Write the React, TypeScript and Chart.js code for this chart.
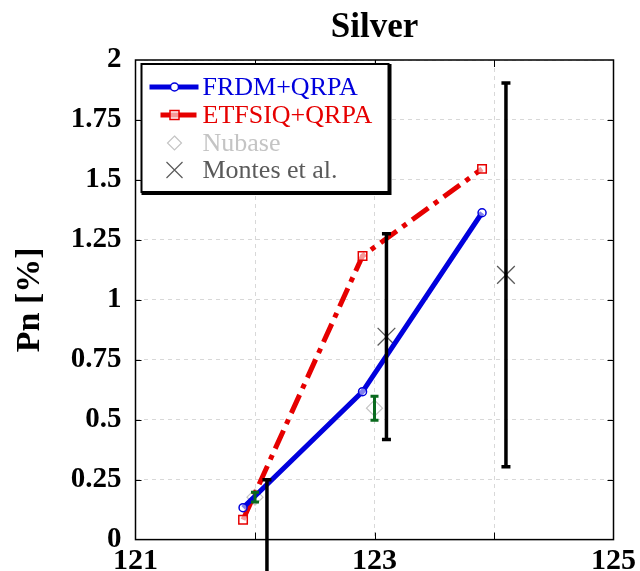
import React, { useEffect, useRef } from 'react';
import { Chart, registerables } from 'chart.js';
Chart.register(...registerables);

const titleText = 'Silver';
const yTitle = 'Pn [%]';
const xTickLabels = ['121', '123', '125'];

const frdmX = [121.9, 122.9, 123.9];
const frdmY = [0.133, 0.617, 1.363];
const etfsiqX = [121.9, 122.9, 123.9];
const etfsiqY = [0.083, 1.183, 1.546];
const nubaseX = [122.0, 123.0];
const nubaseY = [0.177, 0.548];
const nubaseErr = [0.02, 0.05];
const montesX = [122.1, 123.1, 124.1];
const montesY = [-0.05, 0.846, 1.104];
const montesErr = [0.3, 0.429, 0.8];

const legendLabels = ['FRDM+QRPA', 'ETFSIQ+QRPA', 'Nubase', 'Montes et al.'];

const BLUE = '#0000dd';
const RED = '#e60000';
const NUB = '#c4c4c4';
const MON = '#5a5a5a';
const GREEN = '#0a6a1e';
const SERIF = '"Liberation Serif", "Times New Roman", serif';

const toPts = (xs: number[], ys: number[]) => xs.map((x, i) => ({ x, y: ys[i] }));

const decorPlugin = {
  id: 'decor',
  afterDatasetsDraw(chart: any) {
    const { ctx, chartArea: a, scales } = chart;
    const xs = scales.x, ys = scales.y;
    ctx.save();
    // frame
    ctx.strokeStyle = '#000';
    ctx.lineWidth = 1.5;
    ctx.strokeRect(a.left, a.top, a.right - a.left, a.bottom - a.top);
    // inner ticks
    ctx.lineWidth = 1;
    for (let v = 122; v <= 124; v++) {
      const px = Math.round(xs.getPixelForValue(v)) + 0.5;
      ctx.beginPath();
      ctx.moveTo(px, a.bottom); ctx.lineTo(px, a.bottom - 7);
      ctx.moveTo(px, a.top); ctx.lineTo(px, a.top + 7);
      ctx.stroke();
    }
    for (let v = 0.25; v < 2; v += 0.25) {
      const py = Math.round(ys.getPixelForValue(v)) + 0.5;
      ctx.beginPath();
      ctx.moveTo(a.left, py); ctx.lineTo(a.left + 6, py);
      ctx.moveTo(a.right, py); ctx.lineTo(a.right - 6, py);
      ctx.stroke();
    }
    // error bars
    const bar = (x: number, y: number, e: number, color: string, w: number, cap: number) => {
      const px = xs.getPixelForValue(x);
      const p1 = ys.getPixelForValue(y - e);
      const p2 = ys.getPixelForValue(y + e);
      ctx.strokeStyle = color;
      ctx.lineWidth = w;
      ctx.beginPath();
      ctx.moveTo(px, p1); ctx.lineTo(px, p2);
      ctx.moveTo(px - cap, p1); ctx.lineTo(px + cap, p1);
      ctx.moveTo(px - cap, p2); ctx.lineTo(px + cap, p2);
      ctx.stroke();
    };
    nubaseX.forEach((x, i) => bar(x, nubaseY[i], nubaseErr[i], GREEN, 3, 4));
    montesX.forEach((x, i) => bar(x, montesY[i], montesErr[i], '#000', 3.5, 4.5));
    // legend
    const lx = a.left + 6, ly = a.top + 4, lw = 247, lh = 128;
    ctx.fillStyle = '#000';
    ctx.fillRect(lx, ly, lw + 3, lh + 3);
    ctx.fillStyle = '#fff';
    ctx.fillRect(lx, ly, lw, lh);
    ctx.strokeStyle = '#000';
    ctx.lineWidth = 2;
    ctx.strokeRect(lx, ly, lw, lh);
    const rows = [ly + 23, ly + 51, ly + 79, ly + 106];
    const mx = lx + 33;
    // FRDM
    ctx.strokeStyle = BLUE; ctx.lineWidth = 5;
    ctx.beginPath(); ctx.moveTo(lx + 8, rows[0]); ctx.lineTo(lx + 57, rows[0]); ctx.stroke();
    ctx.lineWidth = 1.5;
    ctx.beginPath(); ctx.arc(mx, rows[0], 4, 0, Math.PI * 2); ctx.fillStyle = '#fff'; ctx.fill(); ctx.stroke();
    // ETFSIQ
    ctx.strokeStyle = RED; ctx.lineWidth = 5;
    ctx.beginPath(); ctx.moveTo(lx + 19, rows[1]); ctx.lineTo(lx + 55, rows[1]); ctx.stroke();
    ctx.lineWidth = 1.5; ctx.fillStyle = 'rgba(255,255,255,0.6)';
    ctx.fillRect(mx - 4.5, rows[1] - 4.5, 9, 9); ctx.strokeRect(mx - 4.5, rows[1] - 4.5, 9, 9);
    // Nubase diamond
    ctx.strokeStyle = NUB; ctx.lineWidth = 1.2;
    ctx.beginPath();
    ctx.moveTo(mx, rows[2] - 7); ctx.lineTo(mx + 7, rows[2]); ctx.lineTo(mx, rows[2] + 7); ctx.lineTo(mx - 7, rows[2]); ctx.closePath();
    ctx.stroke();
    // Montes X
    ctx.strokeStyle = MON; ctx.lineWidth = 1.2;
    ctx.beginPath();
    ctx.moveTo(mx - 8, rows[3] - 8); ctx.lineTo(mx + 8, rows[3] + 8);
    ctx.moveTo(mx + 8, rows[3] - 8); ctx.lineTo(mx - 8, rows[3] + 8);
    ctx.stroke();
    ctx.font = '26px ' + SERIF;
    ctx.textBaseline = 'middle';
    ctx.textAlign = 'left';
    const cols = [BLUE, RED, NUB, MON];
    legendLabels.forEach((t, i) => {
      ctx.fillStyle = cols[i];
      ctx.fillText(t, lx + 61, rows[i] + 1);
    });
    // title
    ctx.fillStyle = '#000';
    ctx.font = 'bold 35px ' + SERIF;
    ctx.textAlign = 'center';
    ctx.textBaseline = 'alphabetic';
    ctx.fillText(titleText, (a.left + a.right) / 2, 37);
    ctx.restore();
  },
};

export default function App() {
  const ref = useRef<HTMLCanvasElement>(null);
  useEffect(() => {
    const chart = new Chart(ref.current as HTMLCanvasElement, {
      type: 'scatter',
      data: {
        datasets: [
          {
            label: legendLabels[0],
            data: toPts(frdmX, frdmY),
            showLine: true,
            borderColor: BLUE,
            borderWidth: 5,
            pointRadius: 4,
            pointBorderWidth: 1.5,
            pointBorderColor: BLUE,
            pointBackgroundColor: 'rgba(255,255,255,0.5)',
            pointStyle: 'circle',
          },
          {
            label: legendLabels[1],
            data: toPts(etfsiqX, etfsiqY),
            showLine: true,
            borderColor: RED,
            borderWidth: 5,
            borderDash: [20, 7, 5, 7],
            pointRadius: 6,
            pointBorderWidth: 1.5,
            pointBorderColor: RED,
            pointBackgroundColor: 'rgba(255,255,255,0.6)',
            pointStyle: 'rect',
          },
          {
            label: legendLabels[2],
            data: toPts(nubaseX, nubaseY),
            showLine: false,
            pointRadius: 8,
            pointBorderWidth: 1.2,
            pointBorderColor: NUB,
            pointBackgroundColor: 'rgba(0,0,0,0)',
            pointStyle: 'rectRot',
          },
          {
            label: legendLabels[3],
            data: toPts(montesX, montesY),
            showLine: false,
            pointRadius: 12.5,
            pointBorderWidth: 1.3,
            pointBorderColor: MON,
            pointStyle: 'crossRot',
          },
        ],
      },
      options: {
        responsive: false,
        animation: false,
        layout: { padding: { top: 60, right: 24.5, left: 0, bottom: 0 } },
        plugins: { legend: { display: false }, tooltip: { enabled: false }, title: { display: false } },
        scales: {
          x: {
            type: 'linear',
            min: 121,
            max: 125,
            afterFit: (s: any) => { s.height = 31; },
            ticks: {
              stepSize: 1,
              autoSkip: false,
              maxRotation: 0,
              padding: 4,
              color: '#000',
              font: { family: SERIF, size: 30, weight: 'bold' },
              callback: (v: any) => {
                const s = String(v);
                return xTickLabels.includes(s) ? s : '';
              },
            },
            grid: { color: '#d8d8d8', lineWidth: 1, drawTicks: false },
            border: { display: false, dash: [4, 4] },
          },
          y: {
            type: 'linear',
            min: 0,
            max: 2,
            afterFit: (s: any) => { s.width = 135.5; },
            ticks: {
              stepSize: 0.25,
              padding: 14,
              color: '#000',
              font: { family: SERIF, size: 29, weight: 'bold' },
              callback: (v: any) => String(Math.round(v * 100) / 100),
            },
            grid: { color: '#d8d8d8', lineWidth: 1, drawTicks: false },
            border: { display: false, dash: [4, 4] },
            title: {
              display: true,
              text: yTitle,
              color: '#000',
              font: { family: SERIF, size: 34, weight: 'bold' },
              padding: { top: 10, bottom: 0 },
            },
          },
        },
      },
      plugins: [decorPlugin],
    } as any);
    return () => chart.destroy();
  }, []);
  return (
    <div style={{ position: 'fixed', left: 0, top: 0, width: 640, height: 571, background: '#fff' }}>
      <canvas ref={ref} width={640} height={571} style={{ width: 640, height: 571, display: 'block' }} />
    </div>
  );
}
